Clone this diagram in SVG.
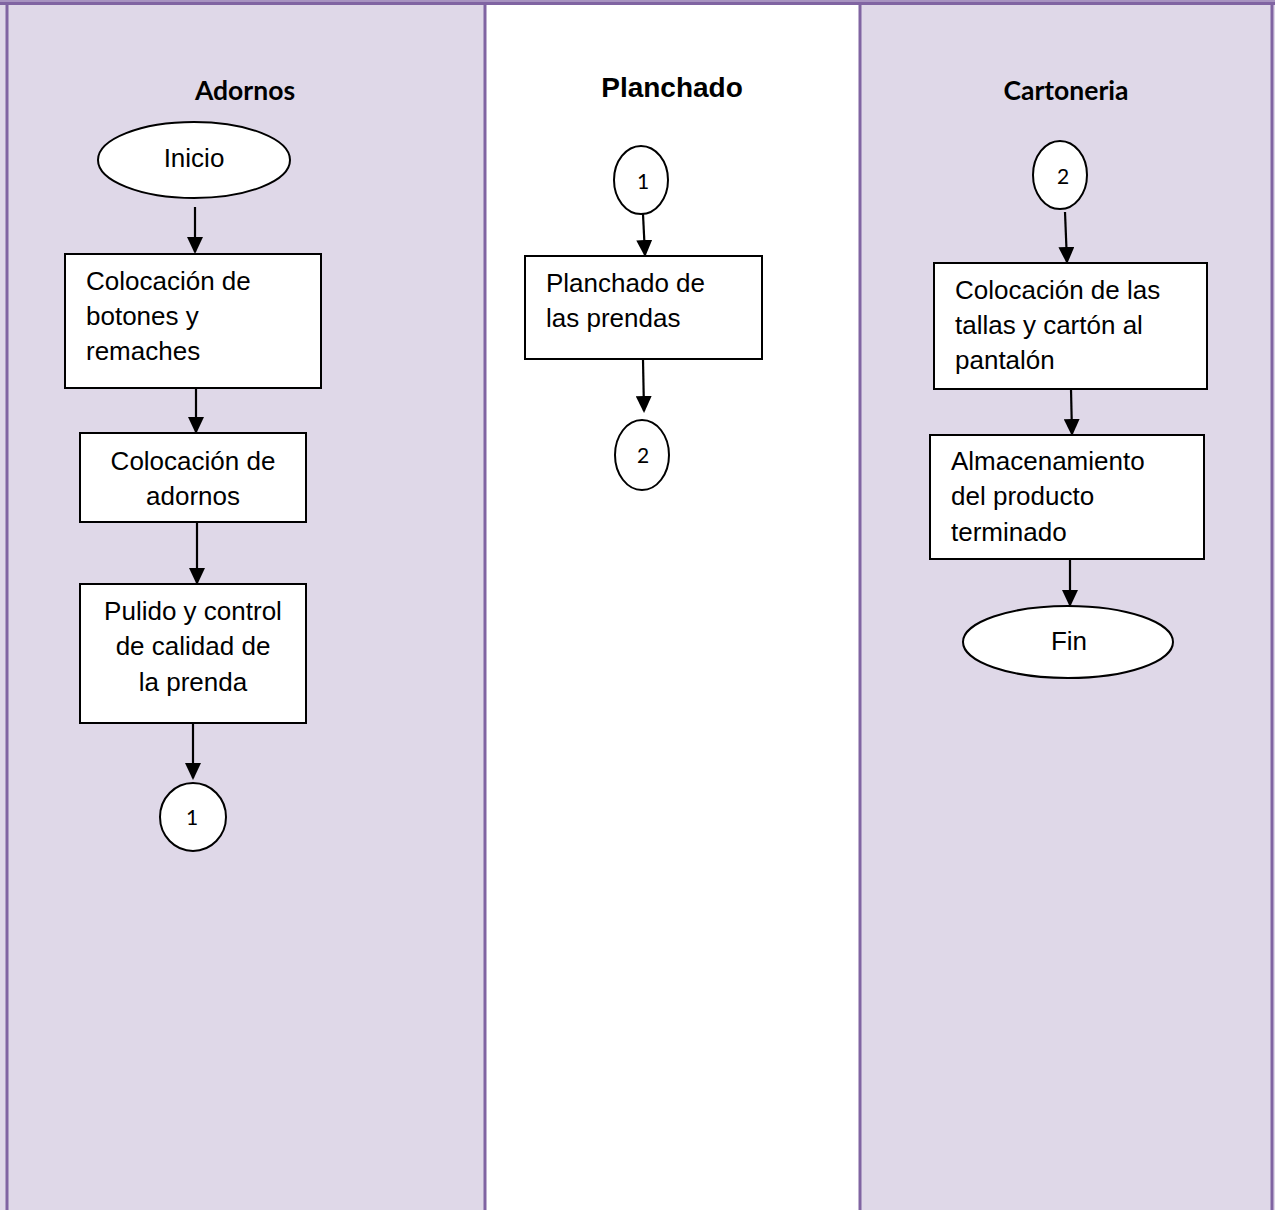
<svg xmlns="http://www.w3.org/2000/svg" width="1275" height="1210" viewBox="0 0 1275 1210">
<defs>
<style>
.lane{fill:#dfd8e8;stroke:none}
.lanew{fill:#ffffff;stroke:none}
.border{stroke:#8064a2;stroke-width:3;fill:none}
.box{fill:#ffffff;stroke:#000;stroke-width:2}
.conn{fill:#ffffff;stroke:#000;stroke-width:2}
.t{font-family:"Liberation Sans",Arial,sans-serif;font-size:26px;fill:#000}
.h{font-family:Lato,"Liberation Sans",sans-serif;font-weight:bold;font-size:26.5px;fill:#000}
.hp{font-family:"Liberation Sans",Arial,sans-serif;font-weight:bold;font-size:28px;fill:#000}
.n{font-family:Lato,"Liberation Sans",sans-serif;font-size:21px;fill:#000}
.edge{stroke:#000;stroke-width:2.2;fill:none}
</style>
<marker id="arr" markerWidth="17" markerHeight="16" refX="15" refY="8" orient="auto" markerUnits="userSpaceOnUse">
<path d="M0,0 L17,8 L0,16 Z" fill="#000"/>
</marker>
</defs>

<g id="lanes">
<rect class="lane" x="0" y="0" width="485" height="1210"/>
<rect class="lanew" x="485" y="0" width="375" height="1210"/>
<rect class="lane" x="860" y="0" width="415" height="1210"/>
<rect x="0" y="0" width="1275" height="2" fill="#a793c0"/>
<line class="border" x1="0" y1="3.5" x2="1275" y2="3.5"/>
<line class="border" x1="7" y1="2" x2="7" y2="1210"/>
<line class="border" x1="485" y1="2" x2="485" y2="1210"/>
<line class="border" x1="860" y1="2" x2="860" y2="1210"/>
<line class="border" x1="1272" y1="2" x2="1272" y2="1210"/>
<text class="h" x="245" y="100" text-anchor="middle">Adornos</text>
<text class="hp" x="672" y="97" text-anchor="middle">Planchado</text>
<text class="h" x="1066" y="100" text-anchor="middle">Cartoneria</text>
</g>

<g id="connectors">
<line class="edge" x1="195" y1="207" x2="195" y2="252" marker-end="url(#arr)"/>
<line class="edge" x1="196" y1="388" x2="196" y2="432" marker-end="url(#arr)"/>
<line class="edge" x1="197" y1="522" x2="197" y2="583" marker-end="url(#arr)"/>
<line class="edge" x1="193" y1="723" x2="193" y2="778" marker-end="url(#arr)"/>
<line class="edge" x1="643" y1="214" x2="645" y2="255" marker-end="url(#arr)"/>
<line class="edge" x1="643" y1="360" x2="644" y2="411" marker-end="url(#arr)"/>
<line class="edge" x1="1065" y1="212" x2="1067" y2="262" marker-end="url(#arr)"/>
<line class="edge" x1="1071" y1="389" x2="1072" y2="434" marker-end="url(#arr)"/>
<line class="edge" x1="1070" y1="559" x2="1070" y2="605" marker-end="url(#arr)"/>
</g>

<g id="inicio">
<ellipse class="conn" cx="194" cy="160" rx="96" ry="38"/>
<text class="t" x="194" y="167" text-anchor="middle">Inicio</text>
</g>
<g id="colocacion-botones">
<rect class="box" x="65" y="254" width="256" height="134"/>
<text class="t" x="86" y="290">Colocación de</text>
<text class="t" x="86" y="325">botones y</text>
<text class="t" x="86" y="360">remaches</text>
</g>
<g id="colocacion-adornos">
<rect class="box" x="80" y="433" width="226" height="89"/>
<text class="t" x="193" y="470" text-anchor="middle">Colocación de</text>
<text class="t" x="193" y="505" text-anchor="middle">adornos</text>
</g>
<g id="pulido">
<rect class="box" x="80" y="584" width="226" height="139"/>
<text class="t" x="193" y="620" text-anchor="middle">Pulido y control</text>
<text class="t" x="193" y="655" text-anchor="middle">de calidad de</text>
<text class="t" x="193" y="691" text-anchor="middle">la prenda</text>
</g>
<g id="conector-1-out">
<ellipse class="conn" cx="193" cy="817" rx="33" ry="34"/>
<text class="n" x="192" y="825" text-anchor="middle">1</text>
</g>

<g id="conector-1-in">
<ellipse class="conn" cx="641" cy="180" rx="27" ry="34"/>
<text class="n" x="643" y="189" text-anchor="middle">1</text>
</g>
<g id="planchado">
<rect class="box" x="525" y="256" width="237" height="103"/>
<text class="t" x="546" y="292">Planchado de</text>
<text class="t" x="546" y="327">las prendas</text>
</g>
<g id="conector-2-out">
<ellipse class="conn" cx="642" cy="455" rx="27" ry="35"/>
<text class="n" x="643" y="463" text-anchor="middle">2</text>
</g>

<g id="conector-2-in">
<ellipse class="conn" cx="1060" cy="175" rx="27" ry="34"/>
<text class="n" x="1063" y="184" text-anchor="middle">2</text>
</g>
<g id="colocacion-tallas">
<rect class="box" x="934" y="263" width="273" height="126"/>
<text class="t" x="955" y="299">Colocación de las</text>
<text class="t" x="955" y="334">tallas y cartón al</text>
<text class="t" x="955" y="369">pantalón</text>
</g>
<g id="almacenamiento">
<rect class="box" x="930" y="435" width="274" height="124"/>
<text class="t" x="951" y="470">Almacenamiento</text>
<text class="t" x="951" y="505">del producto</text>
<text class="t" x="951" y="541">terminado</text>
</g>
<g id="fin">
<ellipse class="conn" cx="1068" cy="642" rx="105" ry="36"/>
<text class="t" x="1069" y="650" text-anchor="middle">Fin</text>
</g>
</svg>
